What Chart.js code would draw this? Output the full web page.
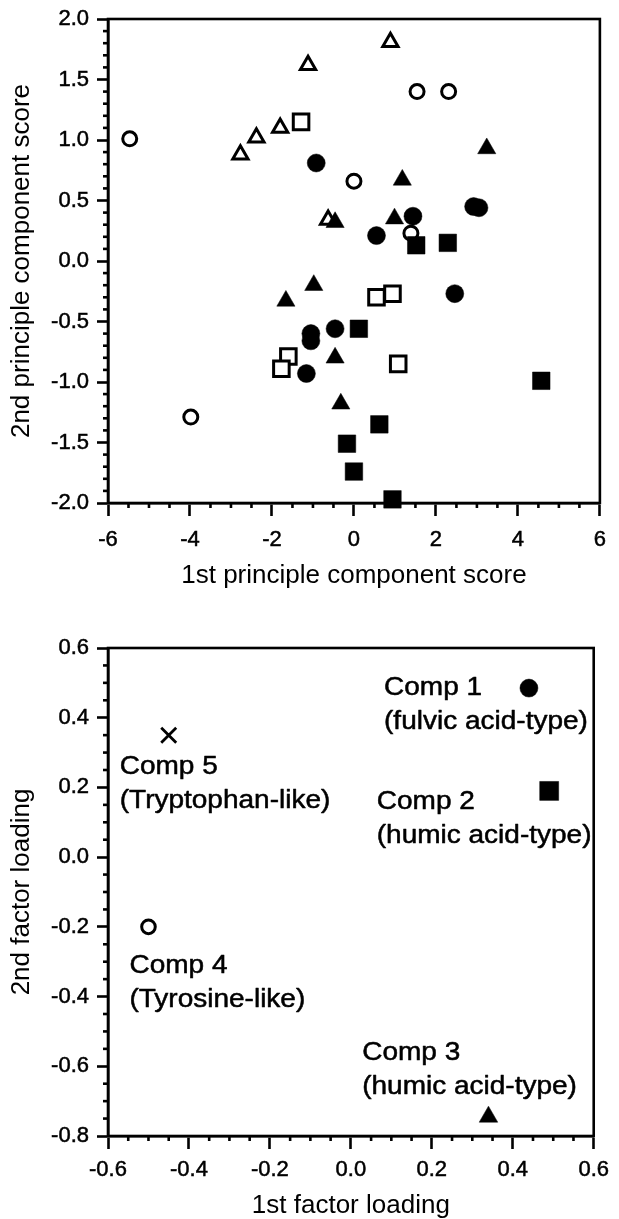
<!DOCTYPE html>
<html>
<head>
<meta charset="utf-8">
<script src="https://cdn.jsdelivr.net/npm/chart.js@4.4.1/dist/chart.umd.min.js"></script>
<style>
html, body { margin: 0; padding: 0; background: #fff; }
#wrap { position: relative; width: 619px; height: 1219px; overflow: hidden; }
.box { position: absolute; left: 0; width: 619px; }
</style>
</head>
<body>
<div id="wrap">
  <div class="box" style="top:0;height:600px"><canvas id="c1" width="619" height="600"></canvas></div>
  <div class="box" style="top:600px;height:619px"><canvas id="c2" width="619" height="619"></canvas></div>
</div>
<script>
// ---------- data: PCA scores (top panel) ----------
const pcaXTicks = [-6, -4, -2, 0, 2, 4, 6];
const pcaYTicks = [-2, -1.5, -1, -0.5, 0, 0.5, 1, 1.5, 2];

const filledSquares   = [[1.52, 0.13], [2.29, 0.15], [0.12, -0.56], [4.57, -0.99], [0.62, -1.35], [-0.17, -1.51], [0.00, -1.74], [0.94, -1.97]];
const filledTriangles = [[3.24, 0.93], [1.18, 0.67], [0.99, 0.35], [-0.46, 0.32], [-0.98, -0.20], [-1.66, -0.33], [-0.46, -0.80], [-0.32, -1.18]];
const openCircles     = [[-5.47, 1.01], [1.54, 1.40], [2.31, 1.40], [0.00, 0.66], [1.39, 0.23], [-3.98, -1.29]];
const filledCircles   = [[-0.92, 0.81], [1.44, 0.37], [0.55, 0.21], [2.92, 0.45], [3.05, 0.44], [2.46, -0.27], [-0.46, -0.56], [-1.05, -0.60], [-1.05, -0.66], [-1.16, -0.93]];
const openSquares     = [[-1.29, 1.15], [0.55, -0.30], [0.94, -0.27], [-1.60, -0.79], [-1.77, -0.89], [1.08, -0.85]];
const openTriangles   = [[0.89, 1.81], [-1.12, 1.62], [-1.80, 1.10], [-2.38, 1.02], [-2.77, 0.88], [-0.63, 0.34]];

// ---------- data: factor loadings (bottom panel) ----------
const loadXTicks = [-0.6, -0.4, -0.2, 0, 0.2, 0.4, 0.6];
const loadYTicks = [-0.8, -0.6, -0.4, -0.2, 0, 0.2, 0.4, 0.6];
const components     = ['Comp 1', 'Comp 2', 'Comp 3', 'Comp 4', 'Comp 5'];
const componentTypes = ['(fulvic acid-type)', '(humic acid-type)', '(humic acid-type)', '(Tyrosine-like)', '(Tryptophan-like)'];
const loading1 = [0.44, 0.49, 0.34, -0.50, -0.45];
const loading2 = [0.485, 0.19, -0.745, -0.20, 0.35];
// where each component's label text starts (data coordinates)
const labelAnchorX = [0.082, 0.064, 0.028, -0.547, -0.571];
const labelAnchorY = [0.485, 0.159, -0.562, -0.314, 0.259];

const FONT = "'Liberation Sans', Arial, Helvetica, sans-serif";
Chart.defaults.font.family = FONT;
Chart.defaults.color = '#000';

const toXY = arr => arr.map(p => ({ x: p[0], y: p[1] }));

// minor ticks drawn through the chart's own scales
const minorTicks = {
  id: 'minorTicks',
  afterDraw(chart, args, opts) {
    const ctx = chart.ctx;
    ctx.save();
    ctx.strokeStyle = '#000';
    ctx.lineWidth = opts.width;
    ctx.lineCap = 'butt';
    ['x', 'y'].forEach(id => {
      const s = chart.scales[id];
      const step = opts[id];
      const n = Math.round((s.max - s.min) / step);
      for (let i = 1; i < n; i++) {
        const v = s.min + i * step;
        if (s.ticks.some(t => Math.abs(t.value - v) < step / 10)) continue;
        const p = s.getPixelForValue(v);
        ctx.beginPath();
        if (id === 'x') { ctx.moveTo(p, s.top); ctx.lineTo(p, s.top + opts.length); }
        else { ctx.moveTo(s.right, p); ctx.lineTo(s.right - opts.length, p); }
        ctx.stroke();
      }
    });
    ctx.restore();
  }
};

// full frame around plot area
const frame = {
  id: 'frame',
  beforeDatasetsDraw(chart, args, opts) {
    const { ctx, chartArea: a } = chart;
    ctx.save();
    ctx.strokeStyle = '#000';
    ctx.lineWidth = opts.width;
    ctx.strokeRect(a.left, a.top, a.right - a.left, a.bottom - a.top);
    ctx.restore();
  }
};

// component text labels in the loading plot
const compLabels = {
  id: 'compLabels',
  afterDatasetsDraw(chart, args, opts) {
    if (!opts.enabled) return;
    const { ctx, scales: { x, y } } = chart;
    ctx.save();
    ctx.fillStyle = '#000';
    ctx.strokeStyle = '#000';
    ctx.lineWidth = opts.strokeWidth;
    ctx.lineJoin = 'round';
    ctx.font = opts.size + 'px ' + FONT;
    ctx.textAlign = 'left';
    ctx.textBaseline = 'middle';
    components.forEach((name, i) => {
      const px = x.getPixelForValue(labelAnchorX[i]);
      const py = y.getPixelForValue(labelAnchorY[i]);
      [name, componentTypes[i]].forEach((t, j) => {
        ctx.save();
        ctx.translate(px, py + j * opts.lineGap);
        ctx.scale(opts.stretch, 1);
        ctx.fillText(t, 0, 0);
        ctx.strokeText(t, 0, 0);
        ctx.restore();
      });
    });
    ctx.restore();
  }
};

function scaleOpts(ticksArr, decimals, title, o) {
  return {
    type: 'linear',
    min: ticksArr[0],
    max: ticksArr[ticksArr.length - 1],
    afterBuildTicks: s => { s.ticks = ticksArr.map(v => ({ value: v })); },
    afterFit: s => { if (o.width !== undefined) s.width = o.width; if (o.height !== undefined) s.height = o.height; },
    border: { display: true, color: '#000', width: 2.6 },
    grid: { display: true, drawOnChartArea: false, drawTicks: true, tickLength: o.tickLength, tickWidth: 2.6, tickColor: '#000', color: '#000' },
    ticks: {
      padding: o.pad,
      font: { size: 22, lineHeight: 1 },
      color: '#000',
      textStrokeColor: '#000',
      textStrokeWidth: 0.5,
      maxRotation: 0,
      autoSkip: false,
      callback: v => Number(v).toFixed(decimals)
    },
    title: {
      display: true,
      text: title,
      font: { size: 26, lineHeight: 1 },
      color: '#000',
      padding: o.titlePad
    }
  };
}

function baseOptions(extra) {
  return {
    responsive: false,
    animation: false,
    events: [],
    layout: { padding: extra.padding },
    plugins: {
      legend: { display: false },
      tooltip: { enabled: false },
      minorTicks: { x: extra.minorX, y: extra.minorY, length: 5, width: 2.6 },
      frame: { width: 2.6 },
      compLabels: extra.labels || { enabled: false }
    },
    scales: extra.scales
  };
}

function ds(data, style, radius, filled, bw) {
  return {
    data: data,
    pointStyle: style,
    pointRadius: radius,
    pointBackgroundColor: filled ? '#000' : '#fff',
    pointBorderColor: '#000',
    pointBorderWidth: bw,
    showLine: false,
    clip: false
  };
}

// ---------- top chart ----------
new Chart(document.getElementById('c1'), {
  type: 'scatter',
  data: {
    datasets: [
      ds(toXY(filledSquares), 'rect', 12.4, true, 0.5),
      ds(toXY(filledTriangles), 'triangle', 10.5, true, 0.5),
      ds(toXY(openCircles), 'circle', 7, false, 3),
      ds(toXY(filledCircles), 'circle', 9, true, 0.5),
      ds(toXY(openSquares), 'rect', 11, false, 3),
      ds(toXY(openTriangles), 'triangle', 8.8, false, 3)
    ]
  },
  options: baseOptions({
    padding: { top: 19, right: 18, bottom: 0, left: 0 },
    minorX: 0.5, minorY: 0.1,
    scales: {
      x: scaleOpts(pcaXTicks, 0, '1st principle component score', { height: 97, tickLength: 13, pad: 13, titlePad: { top: 0, bottom: 11 } }),
      y: scaleOpts(pcaYTicks, 1, '2nd principle component score', { width: 108, tickLength: 11, pad: 8, titlePad: { top: 9, bottom: 0 } })
    }
  }),
  plugins: [minorTicks, frame]
});

// ---------- bottom chart ----------
new Chart(document.getElementById('c2'), {
  type: 'scatter',
  data: {
    datasets: [
      ds([{ x: loading1[0], y: loading2[0] }], 'circle', 9, true, 0.5),
      ds([{ x: loading1[1], y: loading2[1] }], 'rect', 13.4, true, 0.5),
      ds([{ x: loading1[2], y: loading2[2] }], 'triangle', 10.7, true, 0.5),
      ds([{ x: loading1[3], y: loading2[3] }], 'circle', 6.8, false, 3),
      ds([{ x: loading1[4], y: loading2[4] }], 'crossRot', 10.6, false, 2.8)
    ]
  },
  options: baseOptions({
    padding: { top: 48, right: 18, bottom: 0, left: 0 },
    minorX: 0.05, minorY: 0.05,
    labels: { enabled: true, size: 25, stretch: 1.12, lineGap: 34, strokeWidth: 0.5 },
    scales: {
      x: scaleOpts(loadXTicks, 1, '1st factor loading', { height: 83, tickLength: 13, pad: 10, titlePad: { top: 0, bottom: 0 } }),
      y: scaleOpts(loadYTicks, 1, '2nd factor loading', { width: 108, tickLength: 11, pad: 8, titlePad: { top: 9, bottom: 0 } })
    }
  }),
  plugins: [minorTicks, frame, compLabels]
});
</script>
</body>
</html>
